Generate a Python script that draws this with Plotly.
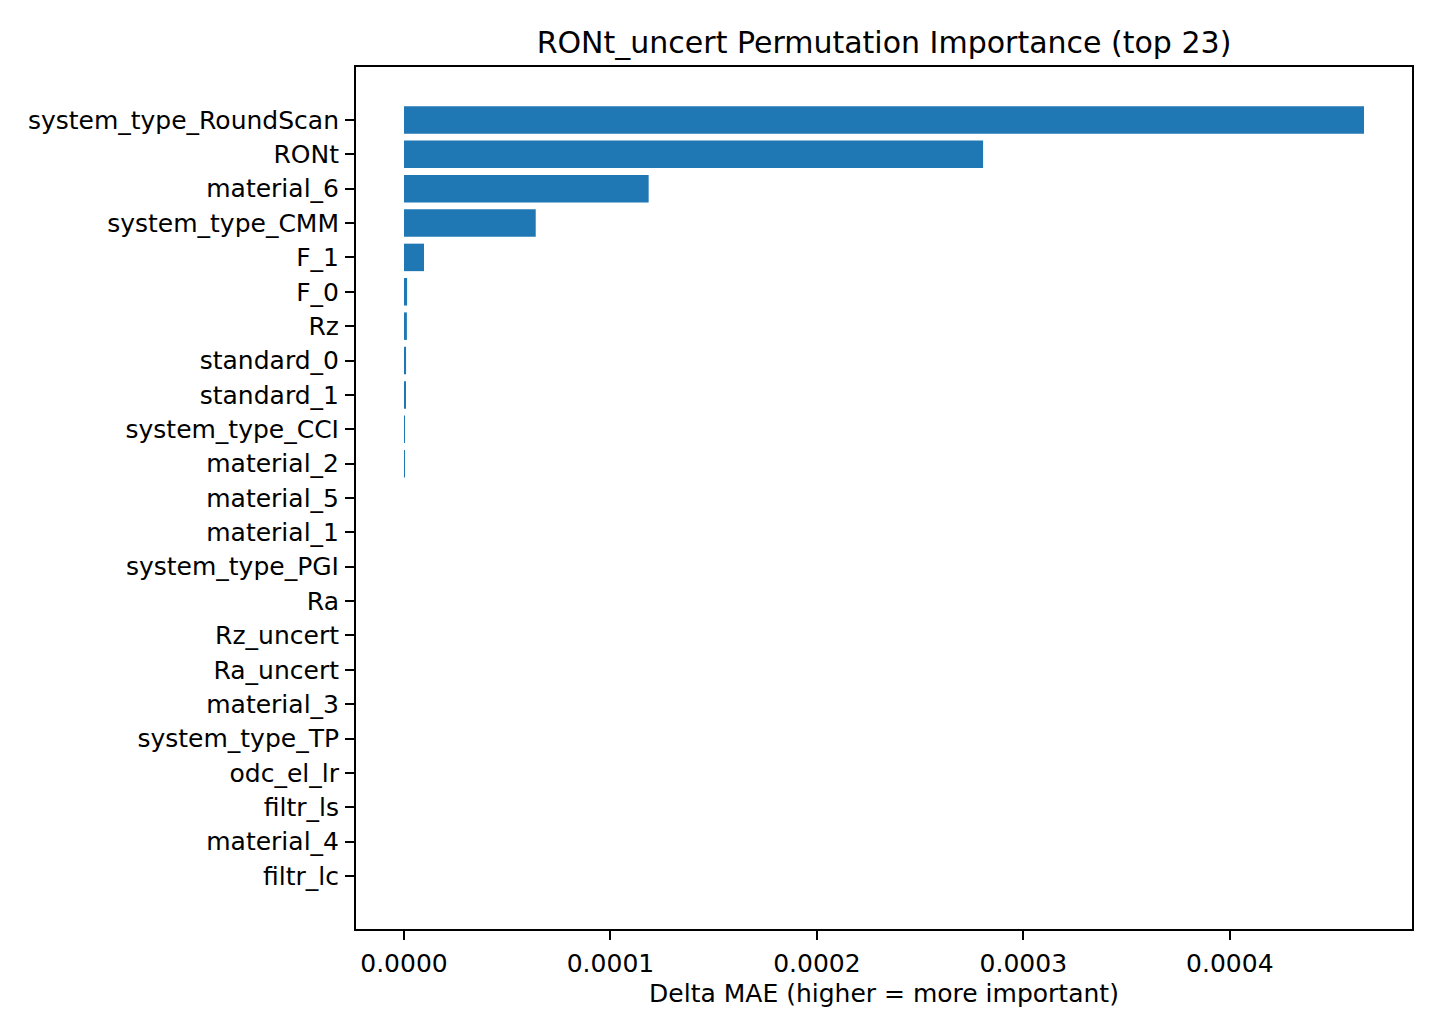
import plotly.graph_objects as go

features = ["system_type_RoundScan", "RONt", "material_6", "system_type_CMM", "F_1", "F_0", "Rz",
            "standard_0", "standard_1", "system_type_CCI", "material_2", "material_5", "material_1",
            "system_type_PGI", "Ra", "Rz_uncert", "Ra_uncert", "material_3", "system_type_TP",
            "odc_el_lr", "filtr_ls", "material_4", "filtr_lc"]
importance = [0.000465, 0.0002805, 0.0001185, 0.0000638, 0.0000097, 0.0000015, 0.0000014,
              0.0000010, 0.0000005, 0.0000004, 0.0000003, 0.0, 0.0,
              0.0, 0.0, 0.0, 0.0, 0.0, 0.0,
              0.0, 0.0, 0.0, 0.0]
x_ticks = [0.0, 0.0001, 0.0002, 0.0003, 0.0004]

n = len(features)
vmax = max(importance)
pad = 0.05 * vmax

fig = go.Figure(go.Bar(
    x=importance, y=features, orientation="h",
    marker=dict(color="#1f77b4", line=dict(width=0)),
    width=0.8,
))

fig.update_layout(
    width=1440, height=1035,
    paper_bgcolor="white", plot_bgcolor="white",
    margin=dict(l=348, r=36, t=59, b=114),
    font=dict(family="DejaVu Sans", size=25, color="black"),
    title=dict(text="RONt_uncert Permutation Importance (top 23)", x=0.5, xref="paper",
               y=1 - 34 / 1035, yref="container", xanchor="center", yanchor="middle",
               font=dict(size=30, color="black")),
    showlegend=False,
    bargap=0.2,
)
fig.update_xaxes(
    range=[-pad, vmax + pad], tickvals=x_ticks, tickformat=".4f",
    showgrid=False, zeroline=False,
    showline=True, linecolor="black", linewidth=2, mirror=True,
    ticks="outside", ticklen=9, tickwidth=2, tickcolor="black",
    ticklabelstandoff=2,
    title=dict(text="Delta MAE (higher = more important)", standoff=7, font=dict(size=25)),
)
span = n - 1 + 0.8
ymargin = 0.05 * span
fig.update_yaxes(
    type="category", categoryorder="array", categoryarray=features,
    range=[n - 1 + 0.4 + ymargin, -0.4 - ymargin],
    showgrid=False, zeroline=False,
    showline=True, linecolor="black", linewidth=2, mirror=True,
    ticks="outside", ticklen=9, tickwidth=2, tickcolor="black",
    ticklabelstandoff=1,
)

fig.write_html("out.html")
